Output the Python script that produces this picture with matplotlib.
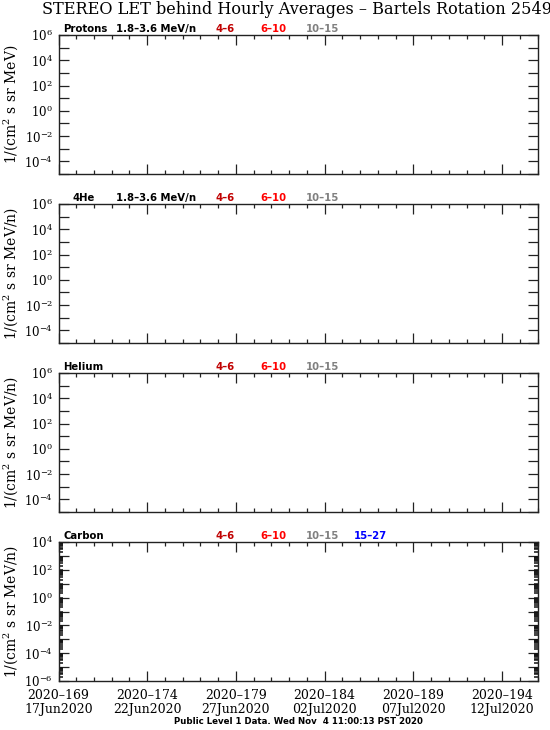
"""STEREO LET behind hourly averages, Bartels rotation 2549 (empty panels)."""

import matplotlib
matplotlib.use("Agg")
import matplotlib.pyplot as plt
import numpy as np
from matplotlib.ticker import FixedLocator, LogLocator, NullFormatter, FuncFormatter

plt.rcParams["font.family"] = ["DejaVu Serif"]
plt.rcParams["mathtext.fontset"] = "dejavuserif"

TITLE = "STEREO LET behind Hourly Averages \u2013 Bartels Rotation 2549"
FOOTER = "Public Level 1 Data. Wed Nov  4 11:00:13 PST 2020"

species = ["Protons", "4He", "Helium", "Carbon"]
species_x = [0.01, 0.03, 0.01, 0.01]
low_band = ["1.8\u20133.6 MeV/n", "1.8\u20133.6 MeV/n", "", ""]
channels = [["4\u20136", "6\u201310", "10\u201315"],
            ["4\u20136", "6\u201310", "10\u201315"],
            ["4\u20136", "6\u201310", "10\u201315"],
            ["4\u20136", "6\u201310", "10\u201315", "15\u201327"]]
channel_colors = ["#c00000", "#ff0000", "#808080", "#0000ff"]
ylabels = ["1/(cm$^2$ s sr MeV)", "1/(cm$^2$ s sr MeV/n)",
           "1/(cm$^2$ s sr MeV/n)", "1/(cm$^2$ s sr MeV/n)"]
ylims = [(1e-5, 1e6), (1e-5, 1e6), (1e-5, 1e6), (1e-6, 1e4)]

day_start, day_end = 169, 196
major_days = [169, 174, 179, 184, 189, 194]
major_dates = ["17Jun2020", "22Jun2020", "27Jun2020", "02Jul2020", "07Jul2020", "12Jul2020"]

W, H = 550, 730
fig = plt.figure(figsize=(W / 100, H / 100), dpi=100)

left, right = 58.5, 537.5
tops = [35, 204, 373, 542]
height = 139


def fmt_pow(v, pos):
    e = int(round(np.log10(v)))
    if e % 2:
        return ""
    return f"$10^{{{e}}}$"


for i, name in enumerate(species):
    ax = fig.add_axes([left / W, 1 - (tops[i] + height) / H, (right - left) / W, height / H])
    ax.set_yscale("log")
    ax.set_xlim(day_start, day_end)
    ax.set_ylim(*ylims[i])
    for sp in ax.spines.values():
        sp.set_linewidth(1.0)
        sp.set_color("#222222")

    ax.xaxis.set_major_locator(FixedLocator(major_days))
    ax.xaxis.set_minor_locator(FixedLocator(np.arange(day_start, day_end + 1)))
    ax.tick_params(axis="x", which="major", direction="in", length=7.5, width=0.9,
                   top=True, bottom=True, color="#222222")
    ax.tick_params(axis="x", which="minor", direction="in", length=3, width=0.9,
                   top=True, bottom=True, color="#222222")

    lo, hi = ylims[i]
    decades = 10.0 ** np.arange(np.log10(lo), np.log10(hi) + 1)
    ax.yaxis.set_major_locator(FixedLocator(decades))
    ax.yaxis.set_major_formatter(FuncFormatter(fmt_pow))
    ax.tick_params(axis="y", which="major", direction="in", length=7.5, width=0.9,
                   left=True, right=True, labelsize=8.5, pad=4, color="#222222")
    if i == 3:
        ax.yaxis.set_minor_locator(LogLocator(base=10, subs=np.arange(2, 10), numticks=50))
        ax.yaxis.set_minor_formatter(NullFormatter())
        ax.tick_params(axis="y", which="minor", direction="in", length=3, width=1.1,
                       left=True, right=True, color="#111111")
    else:
        ax.yaxis.set_minor_locator(FixedLocator([]))

    if i == 3:
        ax.set_xticklabels([f"2020\u2013{d}\n{s}" for d, s in zip(major_days, major_dates)],
                           fontsize=9, linespacing=1.1)
        ax.tick_params(axis="x", which="major", pad=6)
    else:
        ax.set_xticklabels([])

    ax.set_ylabel(ylabels[i], fontsize=10)
    ax.yaxis.set_label_coords(-0.08, 0.5)

    # labels along the top edge
    ax.text(species_x[i], 1.01, name, transform=ax.transAxes, fontsize=7.3,
            fontweight="bold", family="DejaVu Sans", ha="left", va="bottom")
    if low_band[i]:
        ax.text(0.12, 1.01, low_band[i], transform=ax.transAxes, fontsize=7.3,
                fontweight="bold", family="DejaVu Sans", ha="left", va="bottom")
    xs = [0.328, 0.422, 0.517, 0.617]
    for j, lab in enumerate(channels[i]):
        ax.text(xs[j], 1.01, lab, transform=ax.transAxes, fontsize=7.3, fontweight="bold",
                family="DejaVu Sans", color=channel_colors[j], ha="left", va="bottom")

fig.text(296.5 / W, 1 - 9 / H, TITLE, fontsize=11.6, ha="center", va="center")
fig.text(298 / W, 1 - 722 / H, FOOTER, fontsize=6.2, fontweight="bold",
         family="DejaVu Sans", ha="center", va="center")

fig.savefig("out.png", dpi=100)
